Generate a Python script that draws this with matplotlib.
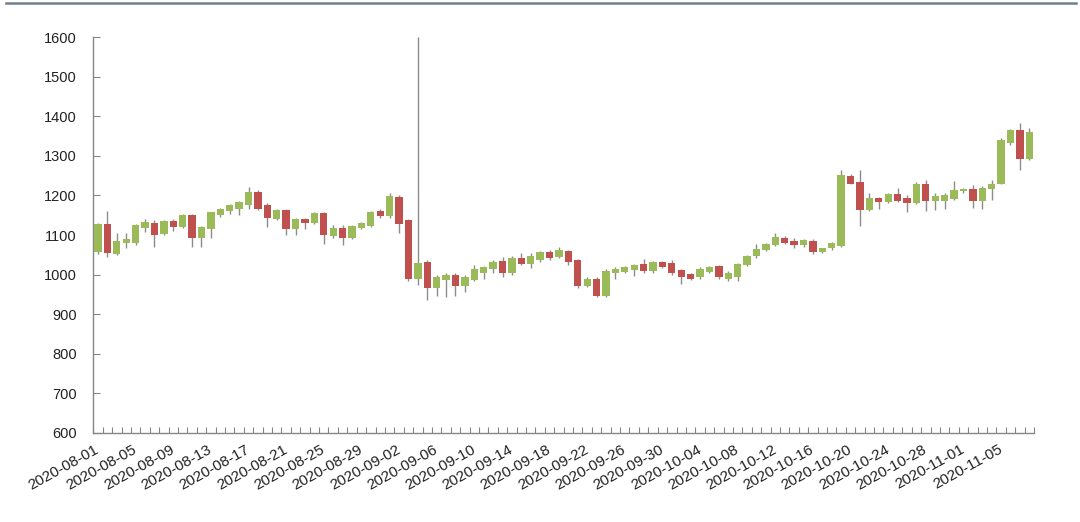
import numpy as np
import pandas as pd
import matplotlib
matplotlib.use('Agg')
import matplotlib.pyplot as plt
from matplotlib.lines import Line2D

# daily candles, 2020-08-01 .. 2020-11-08
dates = pd.date_range('2020-08-01', '2020-11-08', freq='D').strftime('%Y-%m-%d').tolist()

opens = [1058, 1128, 1053, 1080, 1080, 1118, 1131, 1102, 1136, 1120,
	1150, 1092, 1114, 1151, 1160, 1167, 1175, 1208, 1175, 1140,
	1164, 1114, 1140, 1130, 1155, 1097, 1117, 1093, 1118, 1122,
	1160, 1147, 1196, 1137, 990, 1032, 967, 987, 1000, 971,
	987, 1004, 1013, 1035, 1003, 1043, 1028, 1036, 1057, 1045,
	1060, 1036, 971, 990, 947, 1004, 1006, 1012, 1027, 1008,
	1031, 1029, 1012, 1001, 993, 1007, 1022, 990, 995, 1024,
	1046, 1063, 1076, 1093, 1085, 1076, 1086, 1057, 1066, 1072,
	1250, 1235, 1163, 1193, 1183, 1204, 1194, 1181, 1230, 1185,
	1187, 1190, 1210, 1216, 1186, 1216, 1230, 1333, 1366, 1292]
highs = [1130, 1161, 1104, 1106, 1128, 1140, 1139, 1138, 1140, 1152,
	1152, 1122, 1158, 1168, 1178, 1186, 1221, 1213, 1180, 1166,
	1166, 1143, 1143, 1157, 1157, 1126, 1126, 1126, 1134, 1161,
	1167, 1207, 1200, 1140, 1600, 1036, 999, 1003, 1003, 998,
	1025, 1023, 1036, 1044, 1046, 1054, 1054, 1060, 1062, 1069,
	1062, 1040, 995, 995, 1013, 1018, 1022, 1028, 1040, 1034,
	1035, 1038, 1015, 1004, 1018, 1023, 1025, 1008, 1030, 1050,
	1078, 1080, 1106, 1097, 1092, 1090, 1090, 1068, 1082, 1264,
	1253, 1265, 1207, 1196, 1206, 1218, 1202, 1234, 1240, 1206,
	1205, 1237, 1218, 1227, 1223, 1240, 1346, 1369, 1382, 1370]
lows = [1052, 1045, 1049, 1067, 1074, 1108, 1070, 1100, 1111, 1118,
	1070, 1070, 1092, 1145, 1154, 1150, 1166, 1163, 1120, 1137,
	1099, 1099, 1116, 1127, 1078, 1092, 1075, 1090, 1115, 1120,
	1143, 1143, 1106, 985, 974, 935, 946, 943, 945, 957,
	984, 988, 1003, 993, 1000, 1025, 1016, 1033, 1037, 1042,
	1024, 965, 968, 943, 944, 988, 1004, 996, 1005, 1005,
	1017, 998, 977, 987, 990, 1004, 990, 985, 985, 1021,
	1043, 1060, 1073, 1077, 1066, 1069, 1052, 1054, 1063, 1070,
	1228, 1123, 1160, 1166, 1180, 1183, 1157, 1178, 1160, 1163,
	1165, 1188, 1206, 1168, 1165, 1189, 1228, 1328, 1264, 1289]
closes = [1128, 1054, 1086, 1090, 1126, 1134, 1100, 1136, 1120, 1150,
	1092, 1120, 1157, 1165, 1175, 1183, 1208, 1166, 1142, 1163,
	1114, 1141, 1130, 1155, 1100, 1117, 1093, 1123, 1130, 1159,
	1147, 1198, 1129, 990, 1030, 966, 993, 1000, 972, 994,
	1013, 1020, 1032, 1003, 1043, 1028, 1047, 1057, 1042, 1063,
	1032, 971, 990, 946, 1010, 1015, 1019, 1025, 1008, 1031,
	1020, 1005, 993, 990, 1015, 1020, 993, 1005, 1027, 1048,
	1065, 1077, 1095, 1080, 1076, 1087, 1056, 1066, 1080, 1252,
	1230, 1163, 1193, 1183, 1204, 1186, 1181, 1230, 1186, 1198,
	1200, 1214, 1216, 1186, 1220, 1230, 1340, 1366, 1292, 1360]

yticks = list(range(600, 1700, 100))

UP = '#9bbb59'
DOWN = '#c0504d'
WICK = '#8c8c8c'
AXIS = '#868686'

o = np.array(opens)
h = np.array(highs)
l = np.array(lows)
c = np.array(closes)
x = np.arange(len(dates))

fig = plt.figure(figsize=(10.8, 5.22), dpi=100)
ax = fig.add_axes([0.0864, 0.1705, 0.871, 0.7585])

# wicks first, bodies on top
ax.vlines(x, l, h, color=WICK, linewidth=1.0, zorder=2)
colors = [UP if cc >= oo else DOWN for oo, cc in zip(o, c)]
ax.bar(x, np.maximum(np.abs(c - o), 1.5), bottom=np.minimum(o, c), width=0.78,
	color=colors, linewidth=0, zorder=3)

ax.set_xlim(-0.5, len(dates) - 0.5)
ax.set_ylim(600, 1600)
ax.set_yticks(yticks)
ax.set_yticklabels([str(v) for v in yticks], fontsize=10.5, family='Liberation Sans', color='#222222')

# labels every 4th day, small ticks on every category boundary
lab_pos = x[::4]
ax.set_xticks(lab_pos)
ax.set_xticklabels([dates[i] for i in lab_pos], rotation=29, ha='right', va='center',
	rotation_mode='anchor', fontsize=11, family='Liberation Sans', color='#222222')
ax.set_xticks(np.arange(-0.5, len(dates), 1.0), minor=True)
ax.tick_params(axis='x', which='major', length=0, pad=11)
ax.tick_params(axis='x', which='minor', direction='in', length=4, color=AXIS, width=0.8)
ax.tick_params(axis='y', direction='in', length=5, color=AXIS, width=0.8, pad=12)

for s in ['top', 'right']:
	ax.spines[s].set_visible(False)
for s in ['left', 'bottom']:
	ax.spines[s].set_color(AXIS)
	ax.spines[s].set_linewidth(1.0)

# thin rule along the top of the picture
fig.add_artist(Line2D([0.006, 0.996], [0.994, 0.994], color='#6f7f8e', linewidth=1.8))

fig.savefig('out.png', dpi=100)
